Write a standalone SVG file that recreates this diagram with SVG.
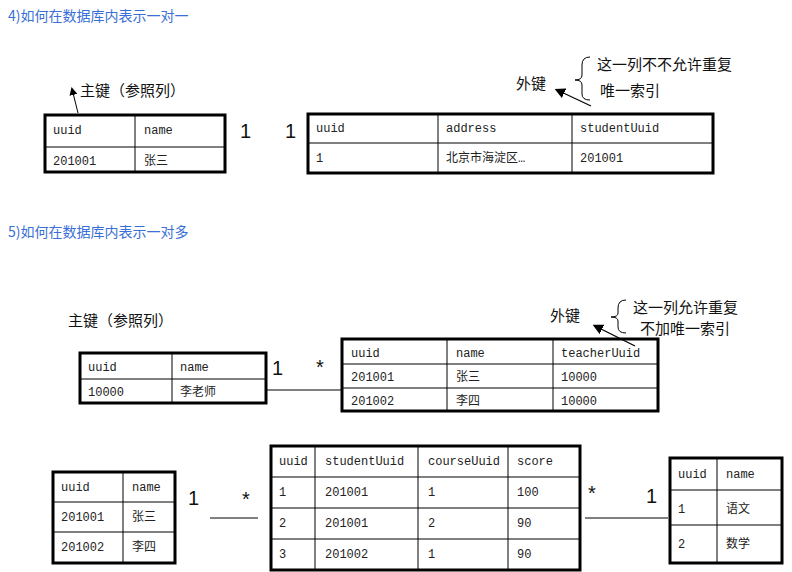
<svg xmlns="http://www.w3.org/2000/svg" width="792" height="572" viewBox="0 0 792 572">
<style>
.o{fill:none;stroke:#000;stroke-width:3}
.i{stroke:#000;stroke-width:1;fill:none}
.m{font-family:"Liberation Mono","Noto Sans CJK SC",monospace;font-size:12px;fill:#222}
.c{font-family:"Noto Sans CJK SC",sans-serif;font-size:15px;fill:#111}
.h{font-family:"Noto Sans CJK SC",sans-serif;font-size:14px;fill:#3a6fd6}
.n{font-family:"Liberation Sans",sans-serif;font-size:20px;fill:#111}
</style>
<defs><marker id="a" markerWidth="8" markerHeight="8" refX="6" refY="4" orient="auto"><path d="M0,0L8,4L0,8z" fill="#000"/></marker></defs>
<rect width="792" height="572" fill="#fff"/>
<text class="h" x="8" y="21">4)如何在数据库内表示一对一</text>
<text class="h" x="8" y="237">5)如何在数据库内表示一对多</text>

<g id="t1"><rect class="o" x="45" y="115" width="180" height="57"/><path class="i" d="M135,115V172M45,147H225"/>
<text class="m" x="53" y="134">uuid</text><text class="m" x="144" y="134">name</text><text class="m" x="53" y="165">201001</text><text class="m" x="144" y="165">张三</text></g>
<g id="t2"><rect class="o" x="308" y="114" width="405" height="59"/><path class="i" d="M438,114V173M572,114V173M308,143H713"/>
<text class="m" x="316" y="132">uuid</text><text class="m" x="446" y="132">address</text><text class="m" x="580" y="132">studentUuid</text>
<text class="m" x="316" y="162">1</text><text class="m" x="446" y="162">北京市海淀区…</text><text class="m" x="580" y="162">201001</text></g>

<g id="t3"><rect class="o" x="80" y="353" width="186" height="50"/><path class="i" d="M172,353V403M80,379H266"/>
<text class="m" x="88" y="371">uuid</text><text class="m" x="180" y="371">name</text><text class="m" x="88" y="396">10000</text><text class="m" x="180" y="396">李老师</text></g>
<g id="t4"><rect class="o" x="342" y="339" width="316" height="72"/><path class="i" d="M447,339V411M553,339V411M342,364H658M342,388H658"/>
<text class="m" x="351" y="357">uuid</text><text class="m" x="456" y="357">name</text><text class="m" x="561" y="357">teacherUuid</text>
<text class="m" x="351" y="381">201001</text><text class="m" x="456" y="381">张三</text><text class="m" x="561" y="381">10000</text>
<text class="m" x="351" y="405">201002</text><text class="m" x="456" y="405">李四</text><text class="m" x="561" y="405">10000</text></g>

<g id="t5"><rect class="o" x="53" y="472" width="122" height="91"/><path class="i" d="M123,472V563M53,502H175M53,532H175"/>
<text class="m" x="61" y="491">uuid</text><text class="m" x="132" y="491">name</text>
<text class="m" x="61" y="521">201001</text><text class="m" x="132" y="521">张三</text>
<text class="m" x="61" y="551">201002</text><text class="m" x="132" y="551">李四</text></g>
<g id="t6"><rect class="o" x="271" y="446" width="309" height="124"/><path class="i" d="M315,446V570M418,446V570M508,446V570M271,477H580M271,508H580M271,539H580"/>
<text class="m" x="279" y="465">uuid</text><text class="m" x="325" y="465">studentUuid</text><text class="m" x="428" y="465">courseUuid</text><text class="m" x="517" y="465">score</text>
<text class="m" x="279" y="496">1</text><text class="m" x="325" y="496">201001</text><text class="m" x="428" y="496">1</text><text class="m" x="517" y="496">100</text>
<text class="m" x="279" y="527">2</text><text class="m" x="325" y="527">201001</text><text class="m" x="428" y="527">2</text><text class="m" x="517" y="527">90</text>
<text class="m" x="279" y="558">3</text><text class="m" x="325" y="558">201002</text><text class="m" x="428" y="558">1</text><text class="m" x="517" y="558">90</text></g>
<g id="t7"><rect class="o" x="670" y="458" width="112" height="105"/><path class="i" d="M717,458V563M670,490H782M670,525H782"/>
<text class="m" x="678" y="478">uuid</text><text class="m" x="726" y="478">name</text>
<text class="m" x="678" y="513">1</text><text class="m" x="726" y="513">语文</text>
<text class="m" x="678" y="548">2</text><text class="m" x="726" y="548">数学</text></g>

<g id="labels">
<text class="c" x="80" y="96">主键（参照列）</text>
<text class="c" x="516" y="89">外键</text>
<text class="c" x="597" y="70">这一列不不允许重复</text>
<text class="c" x="600" y="96">唯一索引</text>
<text class="c" x="68" y="326">主键（参照列）</text>
<text class="c" x="550" y="321">外键</text>
<text class="c" x="633" y="313">这一列允许重复</text>
<text class="c" x="640" y="334">不加唯一索引</text>
<text class="n" x="240" y="138">1</text><text class="n" x="285" y="138">1</text>
<text class="n" x="272" y="375">1</text><text class="n" x="316" y="374">*</text>
<text class="n" x="188" y="505">1</text><text class="n" x="242" y="506">*</text>
<text class="n" x="588" y="500">*</text><text class="n" x="646" y="503">1</text>
</g>
<g id="connectors" fill="none" stroke="#000" stroke-width="1">
<path d="M78,113L72,89" marker-end="url(#a)"/>
<path d="M590,57Q582,57 582,65V75Q582,80 575,80Q582,80 582,85V94Q582,100 590,100"/>
<path d="M591,106L557,90" stroke-width="1.3" marker-end="url(#a)"/>
<path d="M626,300Q618,300 618,308V313Q618,317 611,317Q618,317 618,321V327Q618,333 626,333"/>
<path d="M635,346L595,326" stroke-width="1.3" marker-end="url(#a)"/>
<path d="M266,390H342"/>
<path d="M210,518H258"/>
<path d="M585,518H668"/>
</g>
</svg>
